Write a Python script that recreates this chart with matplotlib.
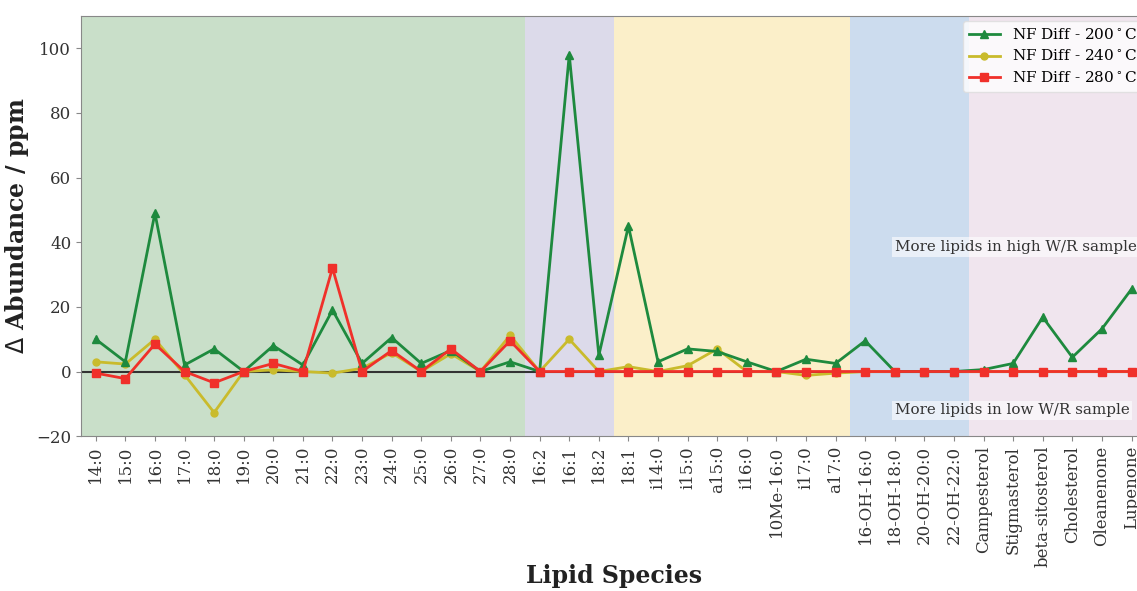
import matplotlib
matplotlib.use("Agg")
import matplotlib.pyplot as plt
import numpy as np

plt.rcParams['font.family'] = 'DejaVu Serif'

species = ['14:0', '15:0', '16:0', '17:0', '18:0', '19:0', '20:0', '21:0', '22:0',
           '23:0', '24:0', '25:0', '26:0', '27:0', '28:0',
           '16:2', '16:1', '18:2',
           '18:1', 'i14:0', 'i15:0', 'a15:0', 'i16:0', '10Me-16:0', 'i17:0', 'a17:0',
           '16-OH-16:0', '18-OH-18:0', '20-OH-20:0', '22-OH-22:0',
           'Campesterol', 'Stigmasterol', 'beta-sitosterol', 'Cholesterol',
           'Oleanenone', 'Lupenone']

nf_200 = [10, 3, 49, 2, 7, 0, 8, 2, 19, 2.5, 10.5, 2.5, 6.5, 0, 3,
          0, 98, 5,
          45, 3, 7, 6.2, 3, 0, 3.8, 2.5,
          9.5, 0, 0, 0,
          0.6, 2.5, 16.8, 4.4, 13.2, 25.5]
nf_240 = [3, 2.3, 10, -1, -12.7, 0, 0.5, 0, -0.5, 1, 5.8, 0, 5.5, 0, 11.2,
          0, 10, 0,
          1.5, 0, 1.8, 7, 0, 0, -1.2, -0.5,
          0, 0, 0, 0,
          0, 0, 0, 0, 0, 0]
nf_280 = [-0.5, -2.2, 8.5, 0, -3.5, 0, 2.5, 0, 32, 0, 6.5, 0, 7, 0, 9.5,
          0, 0, 0,
          0, 0, 0, 0, 0, 0, 0, 0,
          0, 0, 0, 0,
          0, 0, 0, 0, 0, 0]

# lipid class groups: (first index, last index, colour)
groups = [(0, 14, '#c9dfc9'),
          (15, 17, '#dcdaea'),
          (18, 25, '#fbefc9'),
          (26, 29, '#ccdcee'),
          (30, 35, '#f0e5ee')]

x = np.arange(len(species))

fig = plt.figure(figsize=(11.37, 5.91), dpi=100)
ax = fig.add_axes([0.0712, 0.262, 0.937, 0.711])

for start, end, col in groups:
    ax.axvspan(start - 0.5, end + 0.5, color=col, zorder=0, lw=0)

ax.axhline(0, color='#333333', lw=1.5, zorder=1)

ax.plot(x, nf_200, color='#1e8a3e', marker='^', ms=6, lw=2, label='NF Diff - 200$^\\circ$C', zorder=3)
ax.plot(x, nf_240, color='#c9bb2c', marker='o', ms=5, lw=2, label='NF Diff - 240$^\\circ$C', zorder=2)
ax.plot(x, nf_280, color='#f0302a', marker='s', ms=6, lw=2, label='NF Diff - 280$^\\circ$C', zorder=4)

ax.set_xlim(-0.5, 35.5)
ax.set_ylim(-20, 110)
ax.set_xticks(x)
ax.set_xticklabels(species, rotation=90, fontsize=12, color='#333333')
ax.set_yticks([-20, 0, 20, 40, 60, 80, 100])
ax.tick_params(axis='y', labelsize=12, colors='#333333')
ax.tick_params(axis='both', color='#888888')
for s in ax.spines.values():
    s.set_color('#888888')

bbox = dict(facecolor='white', alpha=0.6, edgecolor='none', pad=2)
ax.text(27.0, 38.5, 'More lipids in high W/R sample', fontsize=10.9, color='#333333',
        va='center', ha='left', bbox=bbox)
ax.text(27.0, -12, 'More lipids in low W/R sample', fontsize=10.9, color='#333333',
        va='center', ha='left', bbox=bbox)

ax.set_ylabel('$\\Delta$ Abundance / ppm', fontsize=17, fontweight='bold', color='#222222')
ax.set_xlabel('Lipid Species', fontsize=17, fontweight='bold', color='#222222')
ax.xaxis.set_label_coords(0.5, -0.305)

ax.legend(loc='upper right', fontsize=11, framealpha=0.8, edgecolor='#dddddd',
          bbox_to_anchor=(1.0, 0.995), borderaxespad=0.2, labelspacing=0.4)

fig.savefig('out.png', dpi=100)
